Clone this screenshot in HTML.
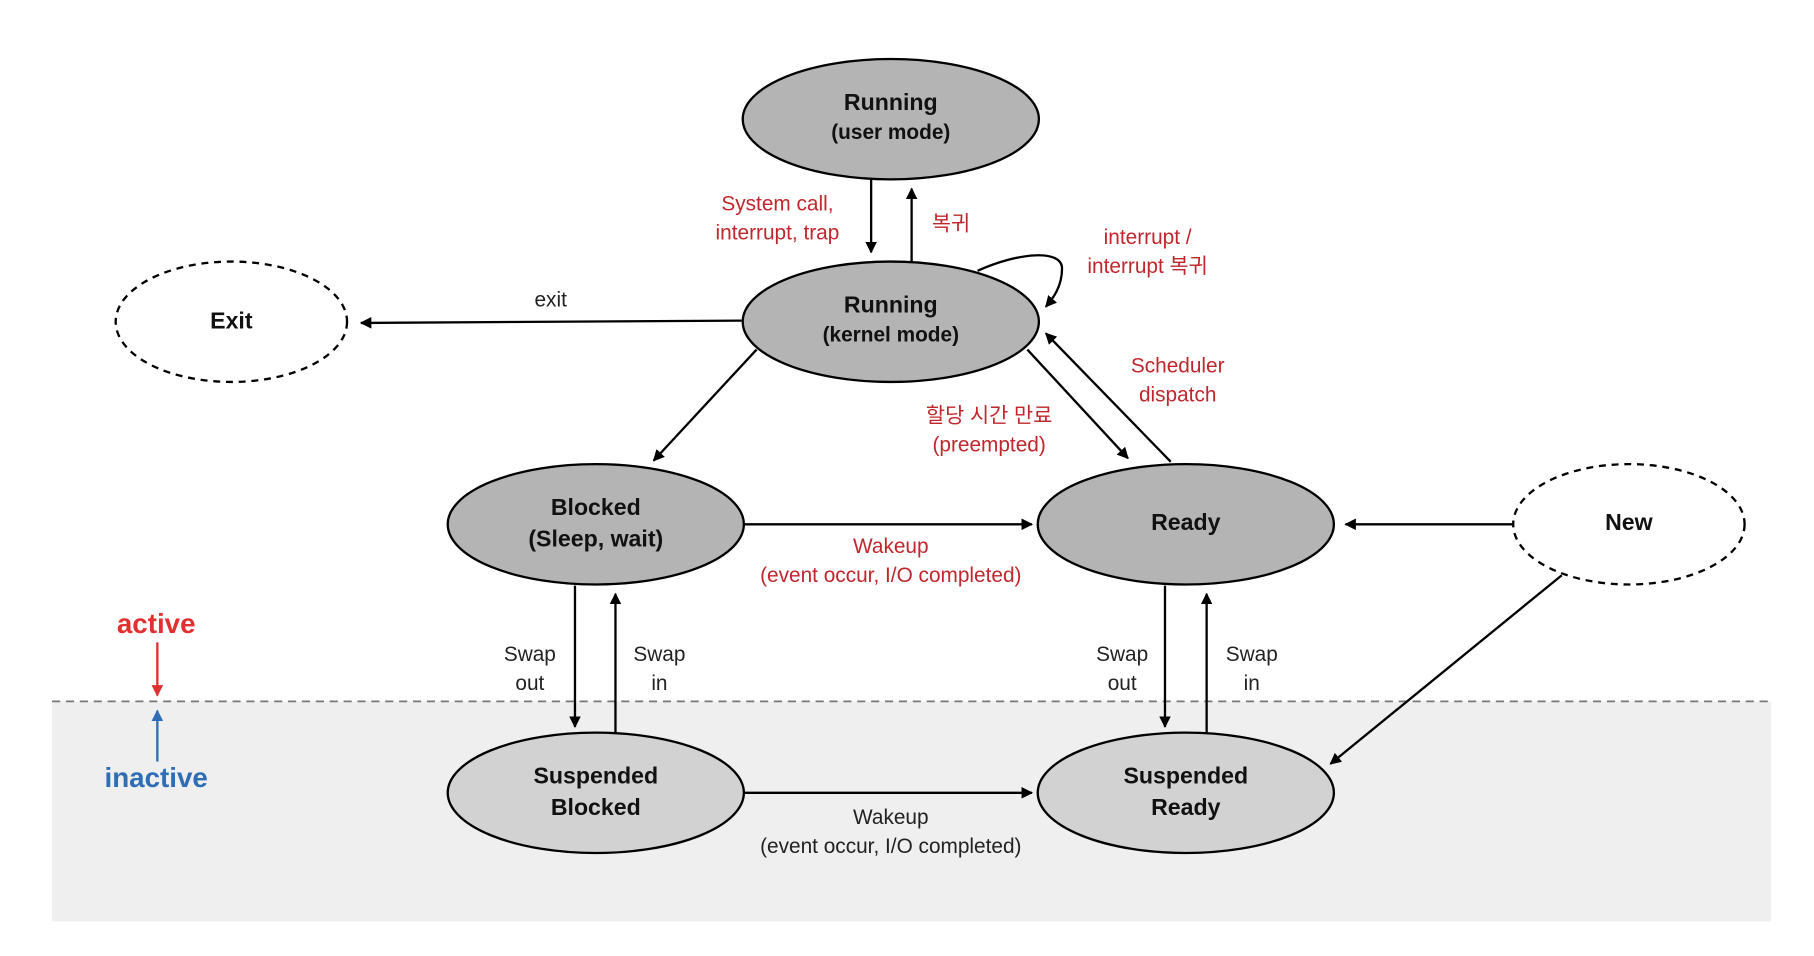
<!DOCTYPE html>
<html><head><meta charset="utf-8"><style>
html,body{margin:0;padding:0;background:#fff;width:1814px;height:956px;overflow:hidden}
svg{display:block}
text{font-family:"Liberation Sans","Noto Sans CJK KR",sans-serif;text-anchor:middle}
.n{font-weight:bold;font-size:20px;fill:#111}
.r{fill:#c0272d;font-size:18px}
.k{fill:#222;font-size:18px}
</style></head><body>
<svg width="1814" height="956" viewBox="0 0 1568 826" preserveAspectRatio="none">
<defs>
<marker id="a" markerWidth="10" markerHeight="10" refX="9" refY="5" orient="auto" markerUnits="userSpaceOnUse"><path d="M0,0 L10,5 L0,10 z" fill="#000"/></marker>
<marker id="ar" markerWidth="10" markerHeight="10" refX="9" refY="5" orient="auto" markerUnits="userSpaceOnUse"><path d="M0,0 L10,5 L0,10 z" fill="#e03030"/></marker>
<marker id="ab" markerWidth="10" markerHeight="10" refX="9" refY="5" orient="auto" markerUnits="userSpaceOnUse"><path d="M0,0 L10,5 L0,10 z" fill="#2f6db5"/></marker>
</defs>
<rect x="45" y="606" width="1486" height="190" fill="#efefef"/>
<line x1="45" y1="606" x2="1531" y2="606" stroke="#777" stroke-width="1.5" stroke-dasharray="7,5"/>
<g stroke="#000" stroke-width="2" fill="none">
<line x1="753" y1="155" x2="753" y2="218" marker-end="url(#a)"/>
<line x1="788" y1="226" x2="788" y2="163" marker-end="url(#a)"/>
<path d="M845,234 C880,218 918,215 918,232 C918,248 910,258 904,265" marker-end="url(#a)"/>
<line x1="641" y1="277" x2="312" y2="279" marker-end="url(#a)"/>
<line x1="654" y1="302" x2="565" y2="398" marker-end="url(#a)"/>
<line x1="888" y1="302" x2="975" y2="396" marker-end="url(#a)"/>
<line x1="1012" y1="399" x2="904" y2="288" marker-end="url(#a)"/>
<line x1="643" y1="453" x2="892" y2="453" marker-end="url(#a)"/>
<line x1="1307" y1="453" x2="1163" y2="453" marker-end="url(#a)"/>
<line x1="497" y1="506" x2="497" y2="628" marker-end="url(#a)"/>
<line x1="532" y1="633" x2="532" y2="513" marker-end="url(#a)"/>
<line x1="1007" y1="506" x2="1007" y2="628" marker-end="url(#a)"/>
<line x1="1043" y1="633" x2="1043" y2="513" marker-end="url(#a)"/>
<line x1="643" y1="685" x2="892" y2="685" marker-end="url(#a)"/>
<line x1="1350" y1="497" x2="1150" y2="660" marker-end="url(#a)"/>
</g>
<line x1="136" y1="555" x2="136" y2="601" stroke="#e03030" stroke-width="2" marker-end="url(#ar)"/>
<line x1="136" y1="658" x2="136" y2="614" stroke="#2f6db5" stroke-width="2" marker-end="url(#ab)"/>
<g stroke="#000" stroke-width="2">
<ellipse cx="770" cy="103" rx="128" ry="52" fill="#b4b4b4"/>
<ellipse cx="770" cy="278" rx="128" ry="52" fill="#b4b4b4"/>
<ellipse cx="515" cy="453" rx="128" ry="52" fill="#b4b4b4"/>
<ellipse cx="1025" cy="453" rx="128" ry="52" fill="#b4b4b4"/>
<ellipse cx="515" cy="685" rx="128" ry="52" fill="#d2d2d2"/>
<ellipse cx="1025" cy="685" rx="128" ry="52" fill="#d2d2d2"/>
<ellipse cx="200" cy="278" rx="100" ry="52" fill="#fff" stroke-dasharray="6,5"/>
<ellipse cx="1408" cy="453" rx="100" ry="52" fill="#fff" stroke-dasharray="6,5"/>
</g>
<text class="n" x="770" y="95">Running</text><text class="n" x="770" y="120" style="font-size:18px">(user mode)</text>
<text class="n" x="770" y="270">Running</text><text class="n" x="770" y="295" style="font-size:18px">(kernel mode)</text>
<text class="n" x="515" y="445">Blocked</text><text class="n" x="515" y="472">(Sleep, wait)</text>
<text class="n" x="1025" y="458">Ready</text>
<text class="n" x="515" y="677">Suspended</text><text class="n" x="515" y="704">Blocked</text>
<text class="n" x="1025" y="677">Suspended</text><text class="n" x="1025" y="704">Ready</text>
<text class="n" x="200" y="284">Exit</text>
<text class="n" x="1408" y="458">New</text>
<text class="r" x="672" y="182">System call,</text><text class="r" x="672" y="207">interrupt, trap</text>
<text class="r" x="822" y="199">복귀</text>
<text class="r" x="992" y="211">interrupt /</text><text class="r" x="992" y="236">interrupt 복귀</text>
<text class="r" x="1018" y="322">Scheduler</text><text class="r" x="1018" y="347">dispatch</text>
<text class="r" x="855" y="365">할당 시간 만료</text><text class="r" x="855" y="390">(preempted)</text>
<text class="r" x="770" y="478">Wakeup</text><text class="r" x="770" y="503">(event occur, I/O completed)</text>
<text class="k" x="476" y="265">exit</text>
<text class="k" x="458" y="571">Swap</text><text class="k" x="458" y="596">out</text>
<text class="k" x="570" y="571">Swap</text><text class="k" x="570" y="596">in</text>
<text class="k" x="970" y="571">Swap</text><text class="k" x="970" y="596">out</text>
<text class="k" x="1082" y="571">Swap</text><text class="k" x="1082" y="596">in</text>
<text class="k" x="770" y="712">Wakeup</text><text class="k" x="770" y="737">(event occur, I/O completed)</text>
<text x="135" y="547" style="fill:#e03030;font-weight:bold;font-size:24px">active</text>
<text x="135" y="680" style="fill:#2f6db5;font-weight:bold;font-size:24px">inactive</text>
</svg>
</body></html>
